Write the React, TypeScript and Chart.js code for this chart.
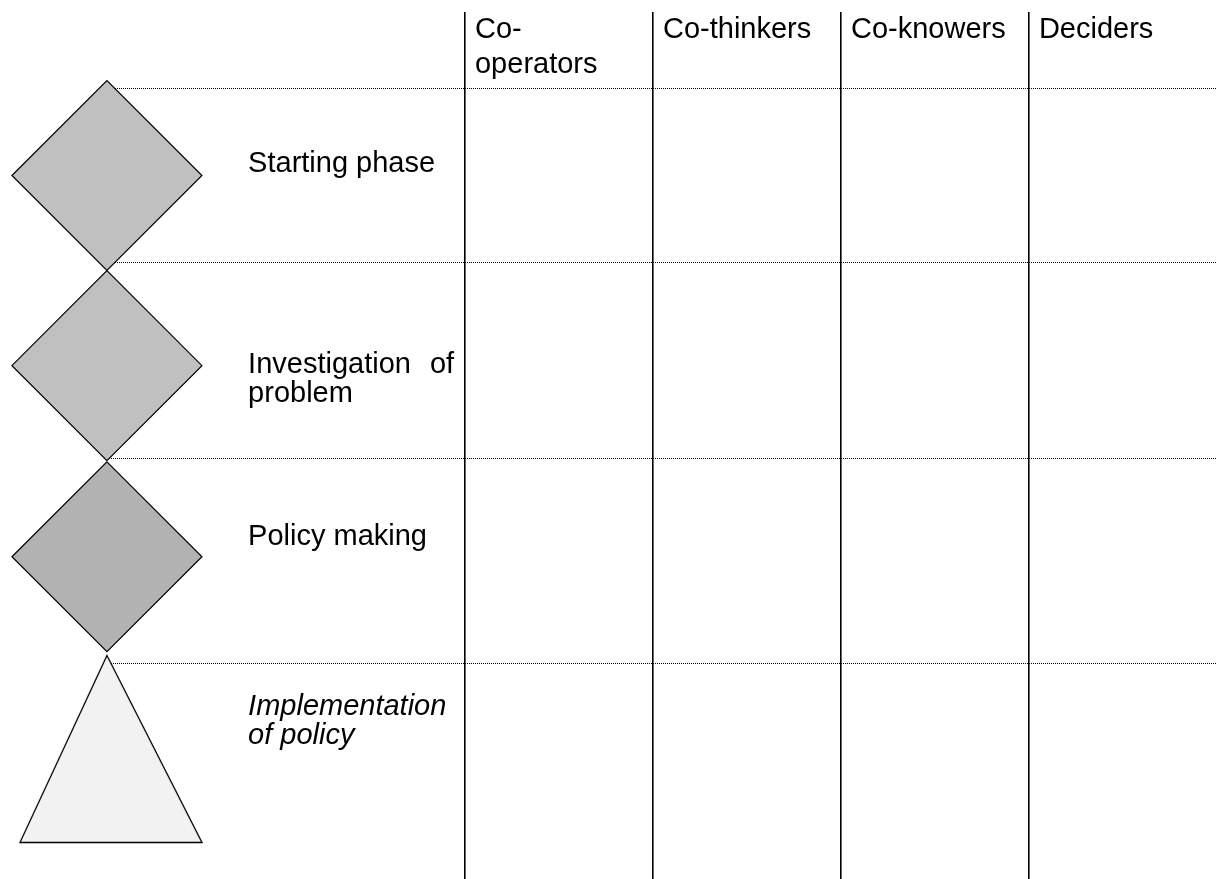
import React, { useEffect, useRef } from "react";
import { Chart, registerables } from "chart.js";

Chart.register(...registerables);

// Column headers (participation levels) and their left boundaries on the x scale
const columnLabels: string[][] = [["Co-", "operators"], ["Co-thinkers"], ["Co-knowers"], ["Deciders"]];
const columnBoundaries: number[] = [0, 1, 2, 3];

// Phases (rows)
const phaseLabels: string[][] = [
  ["Starting phase"],
  ["Investigation of", "problem"],
  ["Policy making"],
  ["Implementation", "of policy"],
];
const phaseCenters: number[] = [0.5, 1.5, 2.505, 3.516];
const phaseLabelY: number[] = [0.48, 1.539, 2.443, 3.337];
const phaseShapes: string[] = ["diamond", "diamond", "diamond", "triangle"];
const phaseFills: string[] = ["#c0c0c0", "#c0c0c0", "#b2b2b2", "#f2f2f2"];
const phaseItalic: boolean[] = [false, false, false, true];

// Dotted row separators
const rowDividers: number[] = [0.04, 0.955, 1.991, 3.064];

// Scale ranges / anchors (data units)
const X_MIN = -1.894;
const X_MAX = 3.995;
const Y_MIN = -0.36;
const Y_MAX = 4.2;
const SHAPE_X = -1.905;
const LABEL_X = -1.154;
const LABEL_RIGHT = -0.058;
const HEADER_OFFSET = 0.053;
const HEADER_Y = -0.223;

const FONT_FAMILY = '"Liberation Sans", Arial, sans-serif';
const FONT_SIZE = 29;
const HEADER_LINE = 35;
const ROW_LINE = 29;

function makeTriangle(fill: string): HTMLCanvasElement {
  const c = document.createElement("canvas");
  c.width = 192;
  c.height = 190;
  const g = c.getContext("2d")!;
  g.beginPath();
  g.moveTo(96, 1.5);
  g.lineTo(191, 188.5);
  g.lineTo(9, 188.5);
  g.closePath();
  g.fillStyle = fill;
  g.fill();
  g.lineWidth = 1.3;
  g.strokeStyle = "#000";
  g.stroke();
  return c;
}

const textPlugin = {
  id: "diagramText",
  afterDatasetsDraw(chart: any) {
    const { ctx } = chart;
    const x = chart.scales.x;
    const y = chart.scales.y;
    ctx.save();
    ctx.fillStyle = "#000";
    ctx.textBaseline = "alphabetic";
    ctx.textAlign = "left";
    const font = (italic: boolean) => `${italic ? "italic " : ""}${FONT_SIZE}px ${FONT_FAMILY}`;

    columnLabels.forEach((lines, i) => {
      ctx.font = font(false);
      const px = x.getPixelForValue(columnBoundaries[i] + HEADER_OFFSET);
      const py = y.getPixelForValue(HEADER_Y);
      lines.forEach((line, j) => ctx.fillText(line, px, py + j * HEADER_LINE));
    });

    phaseLabels.forEach((lines, i) => {
      ctx.font = font(phaseItalic[i]);
      const left = x.getPixelForValue(LABEL_X);
      const right = x.getPixelForValue(LABEL_RIGHT);
      const py = y.getPixelForValue(phaseLabelY[i]);
      lines.forEach((line, j) => {
        const yy = py + j * ROW_LINE;
        const words = line.split(" ");
        const justify = j < lines.length - 1 && words.length > 1;
        if (!justify) {
          ctx.fillText(line, left, yy);
          return;
        }
        const wordsW = words.reduce((s, w) => s + ctx.measureText(w).width, 0);
        const gap = (right - left - wordsW) / (words.length - 1);
        let cx = left;
        words.forEach((w) => {
          ctx.fillText(w, cx, yy);
          cx += ctx.measureText(w).width + gap;
        });
      });
    });
    ctx.restore();
  },
};

export default function App() {
  const ref = useRef<HTMLCanvasElement | null>(null);

  useEffect(() => {
    if (!ref.current) return;
    const styles = phaseShapes.map((s, i) => (s === "triangle" ? makeTriangle(phaseFills[i]) : "rectRot"));
    const chart = new Chart(ref.current, {
      type: "scatter",
      data: {
        datasets: [
          {
            label: "Phases",
            indexAxis: "y",
            data: phaseCenters.map((v) => ({ x: SHAPE_X, y: v })),
            pointStyle: styles as any,
            pointRadius: 95,
            pointHoverRadius: 95,
            pointBackgroundColor: phaseFills,
            pointBorderColor: "#000",
            pointBorderWidth: 1.2,
            showLine: false,
            clip: false as any,
          } as any,
        ],
      },
      options: {
        responsive: false,
        animation: false,
        events: [],
        layout: { autoPadding: false, padding: { left: 109, top: 12, right: 0, bottom: 0 } },
        plugins: {
          legend: { display: false },
          tooltip: { enabled: false },
          title: { display: false },
        },
        scales: {
          x: {
            type: "linear",
            min: X_MIN,
            max: X_MAX,
            ticks: { display: false },
            grid: { color: "#000", lineWidth: 1.6, drawTicks: false },
            border: { display: false },
            afterBuildTicks: (scale: any) => {
              scale.ticks = columnBoundaries.map((v) => ({ value: v }));
            },
          },
          y: {
            type: "linear",
            reverse: true,
            min: Y_MIN,
            max: Y_MAX,
            ticks: { display: false },
            grid: { color: "#000", lineWidth: 1, drawTicks: false },
            border: { display: false, dash: [1, 1] },
            afterBuildTicks: (scale: any) => {
              scale.ticks = rowDividers.map((v) => ({ value: v }));
            },
          },
        },
      } as any,
      plugins: [textPlugin],
    });
    return () => chart.destroy();
  }, []);

  return (
    <div style={{ position: "absolute", left: 0, top: 0, width: 1216, height: 879, background: "#fff" }}>
      <canvas ref={ref} width={1216} height={879} style={{ display: "block" }} />
    </div>
  );
}
